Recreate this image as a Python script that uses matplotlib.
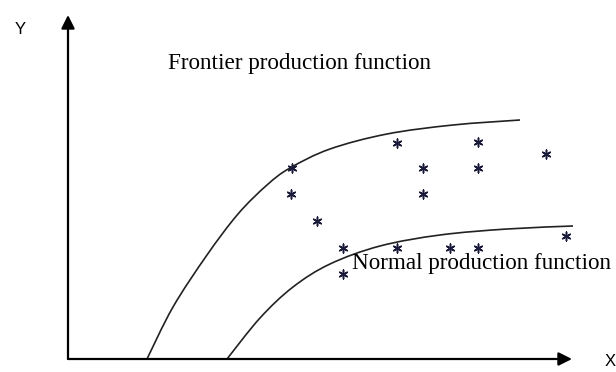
import matplotlib
matplotlib.use("Agg")
import matplotlib.pyplot as plt
from matplotlib.path import Path
from matplotlib.patches import PathPatch

# Frontier production function
frontier_x = [79, 105, 139, 170, 199, 222, 262, 319, 385, 452]
frontier_y = [0, 52, 104, 145, 174, 191, 210, 225, 234, 239]

# Normal production function
normal_x = [159, 192, 225, 262, 312, 372, 439, 505]
normal_y = [0, 41, 72, 95, 113, 124, 130, 133]

# Observed points (asterisks)
obs_x = [224, 223, 249, 329, 410, 478, 355, 410, 355, 275, 329, 382, 410, 498, 275]
obs_y = [191, 165, 138, 216, 217, 205, 191, 191, 165, 111, 111, 111, 111, 123, 85]


def smooth_path(xs, ys):
    """Catmull-Rom curve through the read points, drawn as cubic Beziers."""
    pts = list(zip(xs, ys))
    verts = [pts[0]]
    codes = [Path.MOVETO]
    n = len(pts)
    for i in range(n - 1):
        p0 = pts[i - 1] if i > 0 else pts[i]
        p1 = pts[i]
        p2 = pts[i + 1]
        p3 = pts[i + 2] if i + 2 < n else pts[i + 1]
        c1 = (p1[0] + (p2[0] - p0[0]) / 6.0, p1[1] + (p2[1] - p0[1]) / 6.0)
        c2 = (p2[0] - (p3[0] - p1[0]) / 6.0, p2[1] - (p3[1] - p1[1]) / 6.0)
        verts += [c1, c2, p2]
        codes += [Path.CURVE4] * 3
    return Path(verts, codes)


fig = plt.figure(figsize=(6.16, 3.72), dpi=100)
ax = fig.add_axes([0, 0, 1, 1])
ax.set_xlim(-68, 548)
ax.set_ylim(-13, 359)
ax.axis("off")

# axes with arrows
ax.annotate("", xy=(0, 344), xytext=(0, 0),
            arrowprops=dict(arrowstyle="-|>", lw=1.6, color="black",
                            mutation_scale=20, shrinkA=0, shrinkB=0))
ax.annotate("", xy=(504, 0), xytext=(0, 0),
            arrowprops=dict(arrowstyle="-|>", lw=1.6, color="black",
                            mutation_scale=20, shrinkA=0, shrinkB=0))

for xs, ys in [(frontier_x, frontier_y), (normal_x, normal_y)]:
    ax.add_patch(PathPatch(smooth_path(xs, ys), facecolor="none",
                           edgecolor="#222222", lw=1.2))

ax.scatter(obs_x, obs_y, marker=(6, 2, 0), s=40, color="#1a1a3a", linewidths=1.1)

serif = ["Liberation Serif", "DejaVu Serif"]
ax.text(100, 296, "Frontier production function", fontsize=16.7,
        family=serif, va="center", ha="left")
ax.text(284, 95, "Normal production function", fontsize=16.7,
        family=serif, va="center", ha="left")
ax.text(-48, 329, "Y", fontsize=12, family=["Liberation Sans"], va="center", ha="center")
ax.text(542, -3, "X", fontsize=12, family=["Liberation Sans"], va="center", ha="center")

fig.savefig("out.png", dpi=100)
